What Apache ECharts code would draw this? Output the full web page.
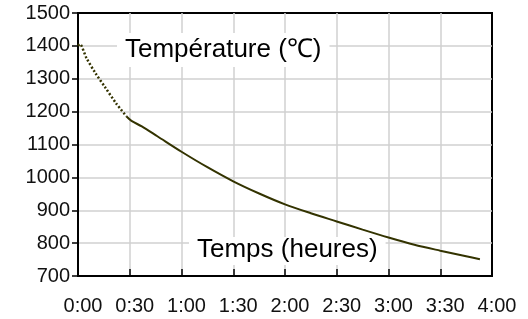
<!DOCTYPE html>
<html>
<head>
<meta charset="utf-8">
<script src="https://cdn.jsdelivr.net/npm/echarts@6/dist/echarts.min.js"></script>
<style>
  html, body { margin: 0; padding: 0; background: #fff; }
  #chart { width: 528px; height: 319px; }
</style>
</head>
<body>
<div id="chart"></div>
<script>
// time in minutes, temperature in °C
const earlyTimes = [0, 1, 5, 10, 16, 22, 28];
const earlyTemps = [1400, 1405, 1362, 1318, 1272, 1226, 1186];
const mainTimes = [28, 31, 37, 46, 60, 75, 90, 105, 120, 135, 150, 165, 180, 195, 210, 225, 233];
const mainTemps = [1186, 1172, 1155, 1125, 1078, 1031, 988, 951, 918, 891, 866, 841, 817, 795, 777, 760, 751];
const tempLabel = 'Température (℃)';
const timeLabel = 'Temps (heures)';

const font = '"Liberation Sans", Arial, sans-serif';
const lineColor = '#333300';

function toPairs(xs, ys) {
  return xs.map(function (x, i) { return [x, ys[i]]; });
}

function fmtTime(v) {
  const h = Math.floor(v / 60);
  const m = v % 60;
  return h + ':' + (m < 10 ? '0' + m : m);
}

const option = {
  animation: false,
  grid: {
    left: 78,
    right: 36,
    top: 13,
    bottom: 43,
    show: true,
    borderColor: '#000',
    borderWidth: 2
  },
  xAxis: {
    type: 'value',
    min: 0,
    max: 240,
    interval: 30,
    axisLine: { lineStyle: { color: '#000', width: 2 } },
    axisTick: { show: true, inside: true, length: 7, lineStyle: { color: '#000', width: 1.5 } },
    axisLabel: {
      color: '#111',
      fontFamily: font,
      fontSize: 20,
      margin: 20,
      padding: [0, 0, 0, 10],
      formatter: fmtTime
    },
    splitLine: { show: true, showMinLine: false, showMaxLine: false, lineStyle: { color: '#d0d0d0', width: 1.5 } }
  },
  yAxis: {
    type: 'value',
    min: 700,
    max: 1500,
    interval: 100,
    axisLine: { show: true, lineStyle: { color: '#000', width: 2 } },
    axisTick: { show: true, length: 6, lineStyle: { color: '#000', width: 1.5 } },
    axisLabel: {
      color: '#111',
      fontFamily: font,
      fontSize: 20,
      margin: 8,
      padding: [4, 0, 0, 0],
      formatter: function (v) { return String(v); }
    },
    splitLine: { show: true, showMinLine: false, showMaxLine: false, lineStyle: { color: '#d0d0d0', width: 1.5 } }
  },
  graphic: [
    {
      type: 'text',
      left: 117,
      top: 33,
      z: 1,
      style: {
        text: tempLabel,
        font: '26px ' + font,
        fill: '#000',
        backgroundColor: '#fff',
        padding: [4, 8, 4, 8]
      }
    },
    {
      type: 'text',
      left: 189,
      top: 237,
      z: 1,
      style: {
        text: timeLabel,
        font: '26px ' + font,
        fill: '#000',
        backgroundColor: '#fff',
        padding: [0, 8, 2, 8]
      }
    }
  ],
  series: [
    {
      name: 'early',
      type: 'line',
      z: 3,
      data: toPairs(earlyTimes, earlyTemps),
      showSymbol: false,
      smooth: 0.3,
      lineStyle: { color: lineColor, width: 2.5, type: [2, 2] }
    },
    {
      name: 'main',
      type: 'line',
      z: 3,
      data: toPairs(mainTimes, mainTemps),
      showSymbol: false,
      smooth: 0.3,
      lineStyle: { color: lineColor, width: 2 }
    }
  ]
};

const myChart = echarts.init(document.getElementById('chart'));
myChart.setOption(option);
</script>
</body>
</html>
